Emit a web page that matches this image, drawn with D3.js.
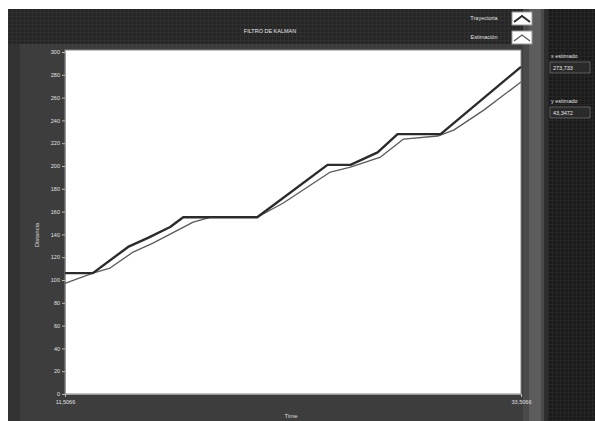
<!DOCTYPE html>
<html>
<head>
<meta charset="utf-8">
<script src="https://cdn.jsdelivr.net/npm/d3@7"></script>
<style>
  html, body { margin: 0; padding: 0; background: #fff; }
  svg { display: block; font-family: "Liberation Sans", Arial, sans-serif; }
</style>
</head>
<body>
<div id="chart"></div>
<script>
// Trayectoria (real path)
const trayTime = [11.5066, 12.85, 14.55, 15.51, 16.58, 17.21, 20.78, 24.17, 25.28, 26.59, 27.55, 29.63, 33.5066];
const trayDist = [106, 106, 129, 137, 146.5, 155, 155, 201, 201, 212, 228, 228, 287];

// Estimacion (Kalman estimate)
const estTime = [11.5066, 12.85, 13.68, 14.79, 15.75, 17.69, 18.51, 20.78, 22.04, 24.31, 25.28, 26.73, 27.84, 29.49, 30.26, 31.71, 33.5066];
const estDist = [97, 106, 110.5, 124.5, 132.4, 150.8, 155, 155, 167.5, 194.7, 199, 207.8, 223.6, 226.3, 231.5, 249, 273.7];

const yTicks = d3.range(0, 301, 20);
const xTicks = [11.5066, 33.5066];
const xTickLabels = ["11,5066", "33,5066"];

const seriesNames = ["Trayectoria", "Estimación"];
const readoutNames = ["x estimado", "y estimado"];
const readoutValues = ["273,733", "43,3472"];

const width = 595, height = 421;

const svg = d3.select("#chart").append("svg")
  .attr("width", width)
  .attr("height", height);

// grid texture of the dark panels
const defs = svg.append("defs");
const pat = defs.append("pattern")
  .attr("id", "grid")
  .attr("width", 4).attr("height", 4)
  .attr("patternUnits", "userSpaceOnUse");
pat.append("rect").attr("width", 4).attr("height", 4).attr("fill", "#262626");
pat.append("path").attr("d", "M0 0.5H4M0.5 0V4").attr("stroke", "#303030").attr("stroke-width", 1);

const pat2 = defs.append("pattern")
  .attr("id", "grid2")
  .attr("width", 4).attr("height", 4)
  .attr("patternUnits", "userSpaceOnUse");
pat2.append("rect").attr("width", 4).attr("height", 4).attr("fill", "#1b1b1b");
pat2.append("path").attr("d", "M0 0.5H4M0.5 0V4").attr("stroke", "#262626").attr("stroke-width", 1);

// panels
svg.append("rect").attr("x", 8).attr("y", 9).attr("width", width - 8).attr("height", height - 9).attr("fill", "url(#grid)");
svg.append("rect").attr("x", 8).attr("y", 44).attr("width", 540).attr("height", height - 44).attr("fill", "#3d3d3d");
svg.append("rect").attr("x", 8).attr("y", 44).attr("width", 12).attr("height", height - 44).attr("fill", "#333");
svg.append("rect").attr("x", 548).attr("y", 9).attr("width", width - 548).attr("height", height - 9).attr("fill", "url(#grid2)");
// vertical bar at the right of the plot
svg.append("rect").attr("x", 523).attr("y", 9).attr("width", 25).attr("height", height - 9).attr("fill", "#4a4a4a");
svg.append("rect").attr("x", 529).attr("y", 9).attr("width", 12).attr("height", height - 9).attr("fill", "#5c5c5c");
svg.append("rect").attr("x", 544).attr("y", 9).attr("width", 4).attr("height", height - 9).attr("fill", "#2e2e2e");

const x = d3.scaleLinear().domain([11.5066, 33.5066]).range([65, 521]);
const y = d3.scaleLinear().domain([0, 300]).range([394, 52]);

// plot area
svg.append("rect")
  .attr("x", x.range()[0]).attr("y", y(300) - 2)
  .attr("width", x.range()[1] - x.range()[0]).attr("height", y(0) - y(300) + 2)
  .attr("fill", "#fff")
  .attr("stroke", "#888").attr("stroke-width", 1);

// y axis
const yAxis = svg.append("g")
  .attr("transform", `translate(${x.range()[0]},0)`)
  .call(d3.axisLeft(y).tickValues(yTicks).tickSize(3).tickPadding(2).tickFormat(d3.format("d")));
yAxis.select(".domain").attr("stroke", "#999");
yAxis.selectAll("line").attr("stroke", "#bbb");
yAxis.selectAll("text").attr("fill", "#e0e0e0").style("font-size", "5.5px");

// x axis
const xAxis = svg.append("g")
  .attr("transform", `translate(0,${y(0)})`)
  .call(d3.axisBottom(x).tickValues(xTicks).tickSize(3).tickPadding(3)
    .tickFormat((d, i) => xTickLabels[i]));
xAxis.select(".domain").attr("stroke", "#999");
xAxis.selectAll("line").attr("stroke", "#bbb");
xAxis.selectAll("text").attr("fill", "#e0e0e0").style("font-size", "5.5px");

// axis titles
svg.append("text")
  .attr("transform", "translate(39,235) rotate(-90)")
  .attr("text-anchor", "middle")
  .attr("fill", "#ddd")
  .style("font-size", "6px")
  .text("Distancia");

svg.append("text")
  .attr("x", 291).attr("y", 418)
  .attr("text-anchor", "middle")
  .attr("fill", "#ddd")
  .style("font-size", "6px")
  .text("Time");

// title
svg.append("text")
  .attr("x", 270).attr("y", 33)
  .attr("text-anchor", "middle")
  .attr("fill", "#e6e6e6")
  .style("font-size", "5.5px")
  .text("FILTRO DE KALMAN");

// lines
const line = d3.line().x(d => x(d[0])).y(d => y(d[1]));

svg.append("path")
  .datum(estTime.map((t, i) => [t, estDist[i]]))
  .attr("d", line)
  .attr("fill", "none")
  .attr("stroke", "#5a5a5a")
  .attr("stroke-width", 1.3)
  .attr("stroke-linejoin", "round");

svg.append("path")
  .datum(trayTime.map((t, i) => [t, trayDist[i]]))
  .attr("d", line)
  .attr("fill", "none")
  .attr("stroke", "#2b2b2b")
  .attr("stroke-width", 2.4)
  .attr("stroke-linejoin", "round");

// legend
const legend = svg.append("g");
seriesNames.forEach((name, i) => {
  const ly = 12 + i * 19;
  legend.append("text")
    .attr("x", 484).attr("y", ly + 8)
    .attr("text-anchor", "middle")
    .attr("fill", "#e0e0e0")
    .style("font-size", "5.5px")
    .text(name);
  legend.append("rect")
    .attr("x", 512).attr("y", ly)
    .attr("width", 20).attr("height", 13)
    .attr("fill", "#fff")
    .attr("stroke", "#999");
  legend.append("path")
    .attr("d", `M514 ${ly + 10} L522 ${ly + 4} L530 ${ly + 10}`)
    .attr("fill", "none")
    .attr("stroke", i === 0 ? "#2b2b2b" : "#5a5a5a")
    .attr("stroke-width", i === 0 ? 2 : 1.3);
});

// numeric readouts
readoutNames.forEach((name, i) => {
  const ry = 58 + i * 45;
  svg.append("text")
    .attr("x", 551).attr("y", ry)
    .attr("fill", "#e0e0e0")
    .style("font-size", "5.5px")
    .text(name);
  svg.append("rect")
    .attr("x", 550).attr("y", ry + 4)
    .attr("width", 40).attr("height", 11)
    .attr("fill", "#2a2a2a")
    .attr("stroke", "#777").attr("stroke-width", 0.7);
  svg.append("text")
    .attr("x", 553).attr("y", ry + 12)
    .attr("fill", "#e8e8e8")
    .style("font-size", "5.5px")
    .text(readoutValues[i]);
});
</script>
</body>
</html>
